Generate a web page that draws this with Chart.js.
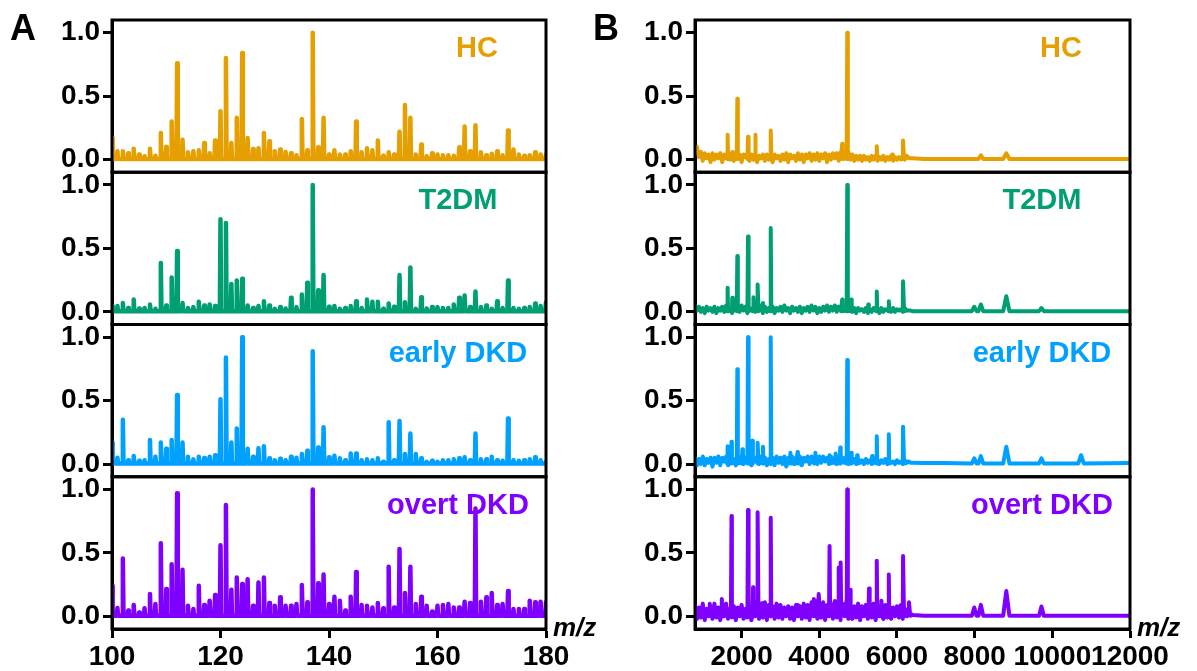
<!DOCTYPE html>
<html>
<head>
<meta charset="utf-8">
<title>MALDI spectra</title>
<script src="https://cdn.jsdelivr.net/npm/chart.js@4.4.0/dist/chart.umd.min.js"></script>
<style>
  html, body { margin: 0; padding: 0; background: #fff; }
  #fig { position: relative; width: 1197px; height: 671px; overflow: hidden; }
  .panel { position: absolute; top: 0; height: 671px; }
  #panelA { left: 0; width: 600px; }
  #panelB { left: 600px; width: 597px; }
  .letter { position: absolute; top: 7px; line-height: 1; font: bold 36px "Liberation Sans", Arial, sans-serif; color: #000; }
</style>
</head>
<body>
<div id="fig">
  <div class="panel" id="panelA"><canvas id="chartA" width="600" height="671"></canvas></div>
  <div class="panel" id="panelB"><canvas id="chartB" width="597" height="671"></canvas></div>
  <div class="letter" style="left:10px">A</div>
  <div class="letter" style="left:593px">B</div>
</div>
<script>
'use strict';

// groups, one stacked sub-plot each (top to bottom)
const groups = ['HC', 'T2DM', 'early DKD', 'overt DKD'];
const colors = ['#E69F00', '#009E73', '#00A0FF', '#8000FF'];

// y ticks shared by every sub-plot
const yTicks = [0, 0.5, 1.0];

// ---- panel A: low mass range, unit resolution ----
const xTicksA = [100, 120, 140, 160, 180];
const mzA = [100, 101, 102, 103, 104, 105, 106, 107, 108, 109, 110, 111, 112, 113, 114, 115, 116, 117, 118, 119,
  120, 121, 122, 123, 124, 125, 126, 127, 128, 129, 130, 131, 132, 133, 134, 135, 136, 137, 138, 139,
  140, 141, 142, 143, 144, 145, 146, 147, 148, 149, 150, 151, 152, 153, 154, 155, 156, 157, 158, 159,
  160, 161, 162, 163, 164, 165, 166, 167, 168, 169, 170, 171, 172, 173, 174, 175, 176, 177, 178, 179, 180];

const hcA = [0.17, 0.065, 0.065, 0.05, 0.086, 0.04, 0.026, 0.086, 0.03, 0.21,
  0.10, 0.30, 0.76, 0.157, 0.058, 0.065, 0.073, 0.13, 0.05, 0.15,
  0.38, 0.80, 0.13, 0.33, 0.84, 0.17, 0.084, 0.09, 0.21, 0.144,
  0.065, 0.08, 0.06, 0.05, 0.034, 0.32, 0.073, 1.0, 0.097, 0.33,
  0.04, 0.073, 0.04, 0.04, 0.065, 0.30, 0.058, 0.09, 0.073, 0.15,
  0.03, 0.058, 0.04, 0.22, 0.43, 0.33, 0.04, 0.118, 0.026, 0.05,
  0.04, 0.034, 0.034, 0.03, 0.097, 0.26, 0.065, 0.27, 0.058, 0.034,
  0.045, 0.065, 0.034, 0.23, 0.08, 0.04, 0.03, 0.034, 0.058, 0.04, 0.04];

const t2dmA = [0.045, 0.045, 0.07, 0.03, 0.097, 0.026, 0.03, 0.058, 0.024, 0.385,
  0.05, 0.27, 0.48, 0.07, 0.03, 0.037, 0.08, 0.05, 0.058, 0.045,
  0.73, 0.70, 0.22, 0.246, 0.26, 0.05, 0.03, 0.045, 0.084, 0.05,
  0.024, 0.037, 0.026, 0.11, 0.037, 0.136, 0.23, 1.0, 0.17, 0.29,
  0.04, 0.045, 0.024, 0.03, 0.045, 0.084, 0.03, 0.097, 0.08, 0.08,
  0.024, 0.065, 0.04, 0.29, 0.076, 0.35, 0.024, 0.115, 0.026, 0.037,
  0.037, 0.03, 0.03, 0.058, 0.11, 0.128, 0.037, 0.16, 0.037, 0.05,
  0.024, 0.084, 0.03, 0.246, 0.03, 0.024, 0.03, 0.037, 0.065, 0.045, 0.076];

const earlyA = [0.17, 0.05, 0.35, 0.03, 0.063, 0.026, 0.03, 0.19, 0.058, 0.17,
  0.12, 0.19, 0.545, 0.17, 0.058, 0.037, 0.058, 0.047, 0.058, 0.07,
  0.51, 0.84, 0.17, 0.28, 1.0, 0.12, 0.058, 0.124, 0.14, 0.045,
  0.03, 0.042, 0.03, 0.058, 0.05, 0.08, 0.105, 0.89, 0.13, 0.29,
  0.053, 0.066, 0.045, 0.03, 0.084, 0.084, 0.03, 0.037, 0.03, 0.045,
  0.018, 0.33, 0.03, 0.34, 0.08, 0.24, 0.08, 0.045, 0.018, 0.026,
  0.018, 0.03, 0.03, 0.037, 0.045, 0.053, 0.03, 0.24, 0.037, 0.037,
  0.058, 0.03, 0.026, 0.36, 0.03, 0.026, 0.03, 0.037, 0.053, 0.03, 0.018];

const overtA = [0.24, 0.065, 0.455, 0.045, 0.09, 0.03, 0.063, 0.175, 0.097, 0.575,
  0.215, 0.41, 0.97, 0.367, 0.084, 0.058, 0.24, 0.09, 0.123, 0.168,
  0.56, 0.877, 0.21, 0.306, 0.254, 0.293, 0.084, 0.267, 0.306, 0.105,
  0.084, 0.15, 0.084, 0.084, 0.097, 0.246, 0.11, 1.0, 0.26, 0.33,
  0.097, 0.154, 0.123, 0.045, 0.154, 0.35, 0.09, 0.084, 0.07, 0.105,
  0.063, 0.39, 0.07, 0.53, 0.183, 0.39, 0.097, 0.154, 0.084, 0.037,
  0.084, 0.09, 0.097, 0.07, 0.07, 0.115, 0.105, 0.85, 0.115, 0.15,
  0.183, 0.09, 0.097, 0.2, 0.058, 0.058, 0.058, 0.123, 0.11, 0.115, 0.11];

// ---- panel B: full mass range, profile mode ----
const xTicksB = [2000, 4000, 6000, 8000, 10000, 12000];
const mzB = [800, 850, 900, 950, 1000, 1050, 1100, 1150, 1200, 1250,
  1300, 1350, 1400, 1450, 1500, 1550, 1600, 1650, 1700, 1750,
  1800, 1850, 1900, 1950, 2000, 2050, 2100, 2150, 2200, 2250,
  2300, 2350, 2400, 2450, 2500, 2550, 2600, 2650, 2700, 2750,
  2800, 2850, 2900, 2950, 3000, 3050, 3100, 3150, 3200, 3250,
  3300, 3350, 3400, 3450, 3500, 3550, 3600, 3650, 3700, 3750,
  3800, 3850, 3900, 3950, 4000, 4050, 4100, 4150, 4200, 4250,
  4300, 4350, 4400, 4450, 4500, 4550, 4600, 4650, 4700, 4750,
  4800, 4850, 4900, 4950, 5000, 5050, 5100, 5150, 5200, 5250,
  5300, 5350, 5400, 5450, 5500, 5550, 5600, 5650, 5700, 5750,
  5800, 5850, 5900, 5950, 6000, 6050, 6100, 6150, 6200, 6250,
  6300, 6350, 6400, 6700, 7200, 12000];

// baseline (noise) level at each mzB point
const hcBaseB = [0.09, 0.10, 0.02, 0.06, -0.01, 0.05, 0.01, 0.04, -0.02, 0.05,
  0.0, 0.04, 0.01, 0.05, -0.02, 0.04, 0.01, 0.05, 0.0, 0.03,
  -0.01, 0.05, 0.01, 0.04, -0.02, 0.04, 0.02, 0.05, -0.01, 0.04,
  0.0, 0.05, -0.02, 0.03, 0.01, 0.04, -0.01, 0.04, 0.0, 0.05,
  -0.02, 0.04, 0.01, 0.03, -0.01, 0.04, 0.0, 0.05, -0.02, 0.04,
  0.01, 0.03, -0.01, 0.05, 0.0, 0.04, -0.02, 0.04, 0.01, 0.05,
  -0.01, 0.04, 0.0, 0.05, -0.01, 0.04, 0.01, 0.05, -0.02, 0.04,
  0.0, 0.05, 0.01, 0.05, -0.01, 0.06, 0.01, 0.05, 0.02, 0.06,
  0.0, 0.04, -0.01, 0.03, 0.0, 0.03, -0.01, 0.03, 0.0, 0.02,
  -0.01, 0.03, 0.0, 0.03, -0.01, 0.02, 0.0, 0.03, -0.01, 0.02,
  0.0, 0.03, -0.01, 0.02, 0.0, 0.02, 0.0, 0.02, 0.0, 0.03,
  0.01, 0.01, 0.01, 0.005, 0.005, 0.005];
const t2dmBaseB = [0.05, 0.01, 0.04, 0.0, 0.03, -0.01, 0.04, 0.01, 0.03, 0.0,
  0.04, -0.01, 0.03, 0.01, 0.04, 0.0, 0.05, 0.01, 0.03, -0.01,
  0.04, 0.01, 0.03, 0.0, 0.05, 0.01, 0.04, -0.01, 0.03, 0.01,
  0.04, 0.0, 0.03, 0.01, 0.05, -0.01, 0.04, 0.0, 0.03, 0.01,
  0.04, -0.01, 0.03, 0.01, 0.04, 0.0, 0.05, 0.01, 0.03, -0.01,
  0.04, 0.01, 0.03, 0.0, 0.04, -0.01, 0.03, 0.01, 0.04, 0.0,
  0.05, 0.01, 0.04, -0.01, 0.03, 0.0, 0.04, 0.01, 0.05, 0.0,
  0.04, 0.01, 0.05, 0.0, 0.04, 0.02, 0.05, 0.01, 0.04, 0.02,
  0.03, 0.0, 0.03, -0.01, 0.03, 0.01, 0.02, 0.0, 0.03, -0.01,
  0.02, 0.0, 0.03, 0.01, 0.02, -0.01, 0.03, 0.0, 0.02, 0.01,
  0.02, 0.0, 0.03, 0.0, 0.02, 0.01, 0.02, 0.0, 0.03, 0.01,
  0.01, 0.01, 0.005, 0.005, 0.005, 0.005];
const earlyBaseB = [0.05, -0.01, 0.04, 0.0, 0.06, -0.01, 0.04, 0.01, 0.05, -0.02,
  0.05, 0.01, 0.06, -0.01, 0.05, 0.02, 0.06, -0.01, 0.05, 0.01,
  0.04, -0.01, 0.05, 0.01, 0.06, 0.0, 0.05, 0.01, 0.06, -0.01,
  0.05, 0.02, 0.06, 0.0, 0.06, 0.01, 0.05, -0.01, 0.04, 0.0,
  0.05, -0.01, 0.06, 0.01, 0.05, 0.0, 0.06, -0.02, 0.05, 0.01,
  0.06, 0.0, 0.05, 0.01, 0.06, -0.01, 0.05, 0.02, 0.06, 0.0,
  0.06, 0.01, 0.07, 0.0, 0.06, 0.01, 0.06, 0.02, 0.05, 0.0,
  0.06, 0.01, 0.05, 0.0, 0.06, 0.02, 0.05, 0.01, 0.06, 0.0,
  0.04, 0.01, 0.04, 0.0, 0.04, 0.01, 0.03, 0.0, 0.04, 0.01,
  0.03, 0.0, 0.04, 0.01, 0.03, 0.0, 0.03, 0.01, 0.04, 0.0,
  0.03, 0.01, 0.02, 0.0, 0.03, 0.01, 0.02, 0.0, 0.03, 0.01,
  0.02, 0.01, 0.01, 0.008, 0.008, 0.008];
const overtBaseB = [0.09, -0.02, 0.07, -0.01, 0.10, -0.03, 0.06, 0.0, 0.08, -0.02,
  0.10, -0.01, 0.07, -0.03, 0.09, 0.0, 0.10, -0.02, 0.06, -0.01,
  0.08, -0.03, 0.07, 0.0, 0.09, -0.02, 0.06, -0.01, 0.08, -0.03,
  0.10, 0.0, 0.12, -0.02, 0.10, -0.01, 0.11, -0.03, 0.09, 0.0,
  0.08, -0.02, 0.10, -0.01, 0.09, -0.02, 0.07, 0.0, 0.08, -0.02,
  0.07, -0.03, 0.09, 0.0, 0.08, -0.02, 0.10, -0.01, 0.09, -0.03,
  0.11, 0.0, 0.12, -0.02, 0.10, -0.01, 0.11, -0.03, 0.09, 0.0,
  0.10, -0.02, 0.12, -0.01, 0.11, -0.03, 0.10, 0.0, 0.12, -0.02,
  0.09, -0.02, 0.08, -0.01, 0.10, -0.03, 0.08, 0.0, 0.09, -0.02,
  0.08, -0.01, 0.10, -0.03, 0.09, 0.0, 0.08, -0.02, 0.09, -0.01,
  0.08, -0.02, 0.07, 0.0, 0.08, -0.01, 0.09, -0.02, 0.06, 0.0,
  0.05, 0.02, 0.01, 0.005, 0.005, 0.005];

// peaks: [m/z, relative intensity, half width in Da (default 15)]
const hcPeaksB = [[1640, 0.196], [1760, 0.06], [1890, 0.48], [2165, 0.18], [2350, 0.196], [2750, 0.23],
  [4590, 0.125, 30], [4720, 1.0], [5480, 0.105], [5880, 0.04], [6157, 0.15, 25],
  [8160, 0.034, 60], [8815, 0.05, 80]];
const t2dmPeaksB = [[1640, 0.19], [1760, 0.11], [1890, 0.44], [2165, 0.594], [2305, 0.115], [2420, 0.215],
  [2550, 0.07], [2750, 0.66], [4590, 0.097, 30], [4720, 1.0], [4820, 0.097], [5260, 0.058],
  [5480, 0.16], [5790, 0.084], [6157, 0.24, 25], [7990, 0.04, 60], [8160, 0.058, 60],
  [8815, 0.123, 80], [9720, 0.03, 60]];
const earlyPeaksB = [[1640, 0.14], [1740, 0.176], [1890, 0.747], [2020, 0.116], [2165, 1.0], [2275, 0.184],
  [2420, 0.168], [2550, 0.137], [2750, 1.0], [3256, 0.09, 30], [3440, 0.095, 30], [3900, 0.09, 30],
  [4265, 0.07], [4420, 0.084], [4540, 0.13], [4720, 0.82], [4820, 0.09], [4975, 0.07],
  [5360, 0.063], [5480, 0.22], [5790, 0.234], [6157, 0.295, 25], [7990, 0.045, 60],
  [8160, 0.063, 60], [8815, 0.137, 80], [9720, 0.045, 60], [10740, 0.07, 70]];
const overtPeaksB = [[1180, 0.1], [1490, 0.136], [1740, 0.79], [2165, 0.838], [2295, 0.23], [2420, 0.82],
  [2550, 0.105], [2750, 0.777], [3430, 0.09], [3860, 0.136, 30], [3985, 0.175, 30], [4265, 0.555],
  [4500, 0.385], [4550, 0.424], [4720, 1.0], [4800, 0.21], [5280, 0.22], [5480, 0.437],
  [5600, 0.123], [5790, 0.33], [6157, 0.476, 25], [6310, 0.11, 30], [7990, 0.07, 60],
  [8160, 0.09, 60], [8815, 0.2, 80], [9720, 0.078, 60]];

const FONT = '"Liberation Sans", Arial, Helvetica, sans-serif';
Chart.defaults.font.family = FONT;
Chart.defaults.color = '#000';

// unit-resolution stick spectrum: a narrow spike at each m/z
function stickTrace(mz, values) {
  const pts = [];
  mz.forEach((m, i) => {
    pts.push({ x: m - 0.12, y: 0.005 }, { x: m, y: values[i] }, { x: m + 0.12, y: 0.005 });
  });
  return pts;
}

// profile spectrum: noisy baseline with peaks merged in
function profileTrace(mz, base, peaks) {
  const pts = mz.map((m, i) => ({ x: m, y: base[i] }));
  peaks.forEach(([m, h, w = 15]) => {
    pts.push({ x: m - w, y: 0.005 }, { x: m, y: h }, { x: m + w, y: 0.005 });
  });
  return pts.sort((a, b) => a.x - b.x);
}

// outlines each sub-plot, writes the group name and the m/z tag
const framePlugin = {
  id: 'frame',
  afterDatasetsDraw(chart) {
    const { ctx, chartArea } = chart;
    ctx.save();
    ctx.lineWidth = 3;
    ctx.strokeStyle = '#000';
    groups.forEach((name, i) => {
      const s = chart.scales['y' + i];
      ctx.strokeRect(chartArea.left, s.top, chartArea.right - chartArea.left, s.bottom - s.top);
      ctx.fillStyle = colors[i];
      ctx.font = 'bold 29px ' + FONT;
      ctx.textAlign = 'center';
      ctx.textBaseline = 'alphabetic';
      ctx.fillText(name, chartArea.right - (i === 0 ? 69 : 88), s.top + 37);
    });
    ctx.fillStyle = '#000';
    ctx.font = 'italic bold 26px ' + FONT;
    ctx.textAlign = 'left';
    ctx.fillText('m/z', chartArea.right + 7, chartArea.bottom + 7);
    ctx.restore();
  }
};

function makePanel(canvasId, xMin, xMax, xTicks, traces, axisWidth, rightPad, lineWidth) {
  const tickFont = { size: 28, weight: 'bold' };
  const scales = {
    x: {
      type: 'linear',
      position: 'bottom',
      min: xMin,
      max: xMax,
      afterBuildTicks: s => { s.ticks = xTicks.map(v => ({ value: v })); },
      afterFit: s => { s.height = 42; },
      grid: { display: true, drawOnChartArea: false, drawTicks: true, tickLength: 9, tickWidth: 3, color: '#000' },
      border: { display: true, width: 3, color: '#000' },
      ticks: { autoSkip: false, maxRotation: 0, minRotation: 0, padding: 2, font: tickFont, callback: v => String(v) }
    }
  };
  groups.forEach((g, i) => {
    scales['y' + i] = {
      type: 'linear',
      position: 'left',
      stack: 'spectra',
      stackWeight: 1,
      weight: groups.length - i,
      min: -0.1,
      max: 1.1,
      afterBuildTicks: s => { s.ticks = yTicks.map(v => ({ value: v })); },
      afterFit: s => { s.width = axisWidth; },
      grid: { display: true, drawOnChartArea: false, drawTicks: true, tickLength: 9, tickWidth: 3, color: '#000' },
      border: { display: true, width: 3, color: '#000' },
      ticks: { padding: 3, font: tickFont, callback: v => v.toFixed(1) }
    };
  });

  return new Chart(document.getElementById(canvasId), {
    type: 'line',
    data: {
      datasets: groups.map((g, i) => ({
        label: g,
        data: traces[i],
        xAxisID: 'x',
        yAxisID: 'y' + i,
        borderColor: colors[i],
        borderWidth: lineWidth,
        borderJoinStyle: 'round',
        borderCapStyle: 'round',
        pointRadius: 0,
        tension: 0,
        fill: false
      }))
    },
    options: {
      responsive: false,
      animation: false,
      devicePixelRatio: 1,
      events: [],
      layout: { padding: { top: 20, right: rightPad, bottom: 0, left: 0 } },
      scales: scales,
      plugins: { legend: { display: false }, tooltip: { enabled: false } }
    },
    plugins: [framePlugin]
  });
}

makePanel('chartA', 100, 180, xTicksA, [
  stickTrace(mzA, hcA),
  stickTrace(mzA, t2dmA),
  stickTrace(mzA, earlyA),
  stickTrace(mzA, overtA)
], 112, 54, 4.5);

makePanel('chartB', 800, 12000, xTicksB, [
  profileTrace(mzB, hcBaseB, hcPeaksB),
  profileTrace(mzB, t2dmBaseB, t2dmPeaksB),
  profileTrace(mzB, earlyBaseB, earlyPeaksB),
  profileTrace(mzB, overtBaseB, overtPeaksB)
], 95, 67, 4);
</script>
</body>
</html>
